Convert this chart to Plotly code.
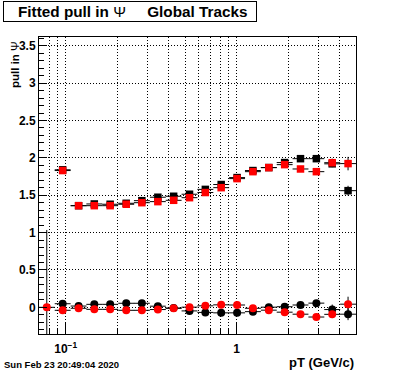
import math
import plotly.graph_objects as go

# ---- data ----
pt_bins = [0.0775, 0.096, 0.119, 0.147, 0.182, 0.226, 0.279, 0.346, 0.428, 0.530,
           0.656, 0.812, 1.006, 1.245, 1.542, 1.909, 2.363, 2.926, 3.622, 4.484]

sq_black = [None, 1.84, 1.36, 1.383, 1.379, 1.392, 1.427, 1.473, 1.486, 1.513,
            1.578, 1.643, 1.736, 1.830, 1.870, 1.937, 1.989, 1.989, 1.92, 1.561]
sq_black_err = [None, 0.02, 0.01, 0.01, 0.01, 0.01, 0.01, 0.01, 0.01, 0.01,
                0.01, 0.01, 0.01, 0.015, 0.015, 0.02, 0.025, 0.03, 0.045, 0.065]

sq_red = [None, 1.83, 1.36, 1.36, 1.36, 1.379, 1.40, 1.414, 1.432, 1.467,
          1.536, 1.601, 1.722, 1.815, 1.869, 1.909, 1.851, 1.815, 1.935, 1.923]
sq_red_err = [None, 0.02, 0.01, 0.01, 0.01, 0.01, 0.01, 0.01, 0.01, 0.01,
              0.01, 0.01, 0.01, 0.015, 0.015, 0.02, 0.025, 0.03, 0.055, 0.09]

ci_black = [None, 0.048, 0.017, 0.040, 0.040, 0.054, 0.054, 0.015, -0.01, -0.048,
            -0.068, -0.074, -0.074, -0.058, 0.002, 0.008, 0.031, 0.056, -0.03, -0.092]
ci_black_err = [None, 0.02, 0.01, 0.01, 0.01, 0.01, 0.01, 0.01, 0.01, 0.01,
                0.01, 0.01, 0.01, 0.015, 0.015, 0.02, 0.025, 0.03, 0.067, 0.08]

ci_red = [0.0, -0.040, -0.013, -0.027, -0.027, -0.040, -0.040, -0.030, -0.013, 0.002,
          0.020, 0.033, 0.031, -0.013, -0.038, -0.065, -0.092, -0.13, -0.094, 0.042]
ci_red_err = [1.035, 0.02, 0.01, 0.01, 0.01, 0.01, 0.01, 0.01, 0.01, 0.01,
              0.01, 0.01, 0.01, 0.015, 0.015, 0.02, 0.025, 0.03, 0.05, 0.1]

x_major_ticks = [0.1, 1]
x_major_text = ["10<sup>\u22121</sup>", "1"]
x_minor_ticks = [0.08, 0.09, 0.2, 0.3, 0.4, 0.5, 0.6, 0.7, 0.8, 0.9, 2, 3, 4]

HALF_BIN = 1.113  # half bin width as ratio (log-uniform bins)

FONT = "Liberation Sans"
DOTS = "1px,2px"

# plot-area pixel frame (for placing texts in paper coordinates)
L, R, T, B = 39, 356, 37, 334
PW, PH = R - L, B - T


def px(xp):
    return (xp - L) / PW


def py(yp):
    return (B - yp) / PH


def xerr_plus(xs):
    return [x * HALF_BIN - x for x in xs]


def xerr_minus(xs):
    return [x - x / HALF_BIN for x in xs]


def series(y, err, color, symbol, size):
    return go.Scatter(
        x=pt_bins, y=y, mode="markers",
        marker=dict(color=color, symbol=symbol, size=size, line=dict(width=0)),
        error_y=dict(type="data", array=err, symmetric=True, color="black",
                     thickness=1, width=0),
        error_x=dict(type="data", array=xerr_plus(pt_bins),
                     arrayminus=xerr_minus(pt_bins), symmetric=False,
                     color="black", thickness=1, width=0),
        hoverinfo="skip",
    )


fig = go.Figure()
fig.add_trace(series(sq_black, sq_black_err, "black", "square", 7.5))
fig.add_trace(series(ci_black, ci_black_err, "black", "circle", 8))
fig.add_trace(series(sq_red, sq_red_err, "red", "square", 7.5))
fig.add_trace(series(ci_red, ci_red_err, "red", "circle", 8))
# carrier for the minor-tick axis
fig.add_trace(go.Scatter(x=[], y=[], xaxis="x2", yaxis="y", showlegend=False))

xr = [math.log10(0.0698), math.log10(4.99)]

fig.update_layout(
    width=396, height=372,
    margin=dict(l=L, r=396 - R, t=T, b=372 - B),
    paper_bgcolor="white", plot_bgcolor="white",
    showlegend=False,
    font=dict(family=FONT, color="black"),
    xaxis=dict(
        type="log", range=xr,
        tickmode="array", tickvals=x_major_ticks, ticktext=x_major_text,
        ticks="inside", ticklen=11, tickcolor="black", tickwidth=1,
        showline=True, linecolor="black", linewidth=1, mirror=True,
        showgrid=True, gridcolor="black", gridwidth=1, griddash=DOTS,
        zeroline=False,
        tickfont=dict(family=FONT, size=12, weight="bold", color="black"),
        ticklabelstandoff=4,
    ),
    xaxis2=dict(
        type="log", range=xr, overlaying="x", anchor="y", side="bottom",
        tickmode="array", tickvals=x_minor_ticks,
        ticks="inside", ticklen=5, tickcolor="black", tickwidth=1,
        showticklabels=False,
        showgrid=True, gridcolor="black", gridwidth=1, griddash=DOTS,
        zeroline=False, showline=False,
    ),
    yaxis=dict(
        range=[-0.357, 3.617],
        tickmode="linear", tick0=0, dtick=0.5,
        ticks="inside", ticklen=7.5, tickcolor="black", tickwidth=1,
        minor=dict(dtick=0.1, tick0=0, ticks="inside", ticklen=4.5,
                   tickcolor="black", showgrid=False),
        showline=True, linecolor="black", linewidth=1, mirror=True,
        showgrid=True, gridcolor="black", gridwidth=1, griddash=DOTS,
        zeroline=False,
        tickfont=dict(family=FONT, size=12, weight="bold", color="black"),
    ),
    annotations=[
        # title box
        dict(text="&nbsp;", xref="paper", yref="paper", x=px(3), y=py(1),
             xanchor="left", yanchor="top", showarrow=False,
             bordercolor="black", borderwidth=1, borderpad=1, bgcolor="white",
             width=250, height=17, font=dict(size=10)),
        # title text
        dict(text="<b>Fitted pull in</b>&nbsp;\u03a8&nbsp;&nbsp;&nbsp;&nbsp;&nbsp;<b>Global Tracks</b>",
             xref="paper", yref="paper", x=px(16), y=py(11.5),
             xanchor="left", yanchor="middle", showarrow=False,
             font=dict(family=FONT, size=15.3, color="black")),
        dict(text="<b>pull in</b> \u03a8", textangle=-90,
             xref="paper", yref="paper", x=px(14.5), y=py(39),
             xanchor="center", yanchor="top", showarrow=False,
             font=dict(family=FONT, size=11.5, color="black")),
        dict(text="<b>pT (GeV/c)</b>",
             xref="paper", yref="paper", x=px(356), y=py(362),
             xanchor="right", yanchor="middle", showarrow=False,
             font=dict(family=FONT, size=13, color="black")),
        dict(text="<b>Sun Feb 23 20:49:04 2020</b>",
             xref="paper", yref="paper", x=px(2), y=py(364),
             xanchor="left", yanchor="middle", showarrow=False,
             font=dict(family=FONT, size=9.5, color="black")),
    ],
)

fig.write_html("out.html", config={"displayModeBar": False},
               post_script="document.body.style.margin='0';")
